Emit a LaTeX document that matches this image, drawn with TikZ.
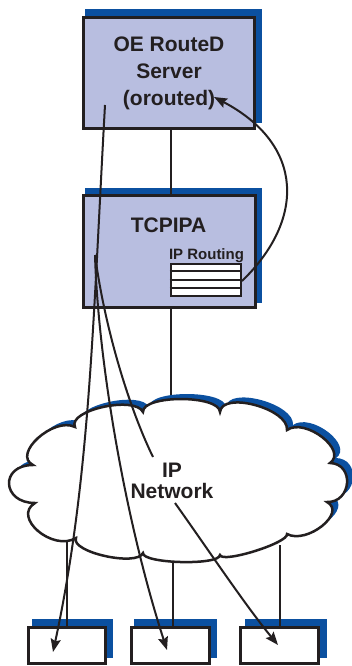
\documentclass[tikz,border=0pt]{standalone}
\usepackage{fontspec}
\setmainfont{Liberation Sans}
\usetikzlibrary{arrows.meta,calc}
\definecolor{ink}{HTML}{231F20}
\definecolor{boxfill}{HTML}{B8BEE0}
\definecolor{shadowblue}{HTML}{0B50A0}

\begin{document}
\begin{tikzpicture}[x=1pt,y=-1pt,
  shadowfill/.style={fill=shadowblue},
  panel/.style={draw=ink, line width=3pt, fill=boxfill, inner sep=0pt},
  host/.style={draw=ink, line width=3pt, fill=white, inner sep=0pt,
    minimum width=77pt, minimum height=36pt},
  title/.style={font=\bfseries\fontsize{21}{27}\selectfont, text=ink,
    align=center, inner sep=0pt},
  small/.style={font=\bfseries\fontsize{15}{15}\selectfont, text=ink, inner sep=0pt},
  table/.style={draw=ink, line width=2pt, fill=white, inner sep=0pt,
    minimum width=70pt, minimum height=32pt},
  link/.style={draw=ink, line width=2pt},
  flow/.style={draw=ink, line width=2pt,
    -{Stealth[length=13pt,width=10pt,inset=2pt]}},
  cloudline/.style={draw=ink, line width=2.5pt, fill=white},
]
\useasboundingbox (0,0) rectangle (351,666);

% outline of the IP network cloud
\def\cloudpath{(76,538) .. controls (52.7,552) and (11.7,517) .. (35,503)
 .. controls (1.7,503) and (-0.3,465) .. (33,465)
 .. controls (11.7,454.3) and (53.7,416.3) .. (75,427)
 .. controls (67,410.3) and (135,395.3) .. (143,412)
 .. controls (142.3,394.7) and (219.3,394.7) .. (220,412)
 .. controls (222,390.7) and (289,408.7) .. (287,430)
 .. controls (305,417.3) and (348,450.3) .. (330,463)
 .. controls (354.7,463.7) and (351.7,502.7) .. (327,502)
 .. controls (347,512.7) and (307,544.7) .. (287,534)
 .. controls (289,542.7) and (222,563.7) .. (220,555)
 .. controls (219.3,565.7) and (142.3,563.7) .. (143,553)
 .. controls (137,567) and (70,552) .. (76,538) -- cycle}

% box shadows
\fill[shadowfill] (85,9) rectangle (262,123);
\fill[shadowfill] (85,188) rectangle (262,303);
\fill[shadowfill] (32,619) rectangle (113,658);
\fill[shadowfill] (134,619) rectangle (217,658);
\fill[shadowfill] (245,619) rectangle (327,658);

% boxes
\node[panel, minimum width=171pt, minimum height=111pt, title] (srv) at (169,73)
  {OE RouteD\\Server\\(orouted)};
\node[panel, minimum width=172pt, minimum height=112pt] (tcp) at (169.5,251.5) {};
\node[title, anchor=base] (tcplabel) at (168.5,232) {TCPIPA};
\node[small, anchor=base] (rtlabel) at (206.5,259) {IP Routing};
\node[table] (tbl) at (205.5,279.5) {};
\foreach \f in {0.25,0.5,0.75}
  \draw[ink, line width=2pt] ($(tbl.north west)!\f!(tbl.south west)$) -- ($(tbl.north east)!\f!(tbl.south east)$);

\node[host] (h1) at (67,645.5) {};
\node[host, minimum width=78pt] (h2) at (170.5,645.5) {};
\node[host, minimum width=78pt] (h3) at (279.5,645.5) {};

% attachment points
\coordinate (srvdown) at (171,128.5);
\coordinate (tcpup) at (171,195.5);
\coordinate (tcpdown) at (171,307.5);
\coordinate (cloudtop) at (171,408);
\coordinate (cb1) at (67,540);
\coordinate (cb2) at (173,556);
\coordinate (cb3) at (280,545);

% wiring
\draw[link] (srvdown) -- (tcpup);
\draw[link] (tcpdown) -- (cloudtop);
\draw[link] (cb1) -- (h1.north -| cb1);
\draw[link] (cb2) -- (h2.north -| cb2);
\draw[link] (cb3) -- (h3.north -| cb3);

% the network
\fill[shadowfill, shift={(6,-5)}] \cloudpath;
\path[cloudline] \cloudpath;
\node[title, font=\bfseries\fontsize{21}{21}\selectfont] (net) at (172,481) {IP\\Network};

% route flows
\coordinate (s1) at (105,105);
\coordinate (t2) at (95,255);
\coordinate (netin) at (153,457);
\coordinate (netout) at (175,503);
\coordinate (d1) at (53,652);
\coordinate (d2) at (167,650);
\coordinate (d3) at (278,645);
\coordinate (rtout) at (242,281);
\coordinate (srvin) at (214,97);

\draw[flow] (s1) .. controls (93,320) and (90,480) .. (d1);
\draw[flow] (t2) .. controls (98,360) and (125,520) .. (d2);
\draw[link] (t2) .. controls (105,330) and (130,410) .. (netin);
\draw[flow] (netout) .. controls (205,545) and (245,605) .. (d3);
\draw[flow] (rtout) .. controls (305,220) and (305,145) .. (srvin);
\end{tikzpicture}
\end{document}
